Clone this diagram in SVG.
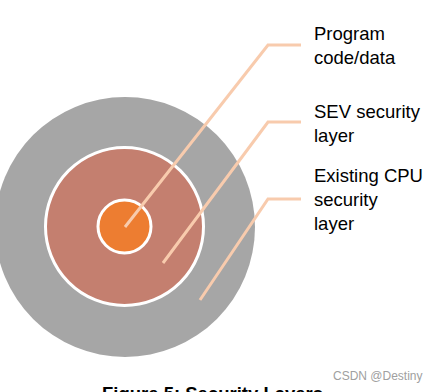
<svg xmlns="http://www.w3.org/2000/svg" width="439" height="392" viewBox="0 0 439 392">
<style>
.lbl{font-family:"Liberation Sans",Arial,sans-serif;font-size:18.5px;fill:#000}
.conn{fill:none;stroke:#F8CBAD;stroke-width:3;stroke-linejoin:miter}
</style>
<rect width="439" height="392" fill="#fff"/>
<g id="outer-layer"><circle cx="125" cy="227" r="130" fill="#A6A6A6"/></g>
<g id="sev-layer"><circle cx="124.5" cy="226.5" r="79" fill="#C47F6F" stroke="#fff" stroke-width="3"/></g>
<g id="program-core"><circle cx="124.5" cy="226.5" r="26.5" fill="#ED7D31" stroke="#fff" stroke-width="3"/></g>
<g id="connectors">
<polyline class="conn" points="125,227 268,45 301,45"/>
<polyline class="conn" points="163,263 268,122 301,122"/>
<polyline class="conn" points="200,300 268,199 301,199"/>
</g>
<g id="label-program"><text class="lbl" x="314" y="39.5">Program</text><text class="lbl" x="314" y="63.5">code/data</text></g>
<g id="label-sev"><text class="lbl" x="314" y="117.5">SEV security</text><text class="lbl" x="314" y="141.5">layer</text></g>
<g id="label-cpu"><text class="lbl" x="314" y="181.5">Existing CPU</text><text class="lbl" x="314" y="205.5">security</text><text class="lbl" x="314" y="229.5">layer</text></g>
<text x="333" y="380" font-family="'Liberation Sans',Arial,sans-serif" font-size="12" fill="#A0A0A0">CSDN @Destiny</text>
<text x="102" y="399.5" font-family="'Liberation Sans',Arial,sans-serif" font-size="18.5" font-weight="bold" fill="#000">Figure 5: Security Layers</text>
</svg>
